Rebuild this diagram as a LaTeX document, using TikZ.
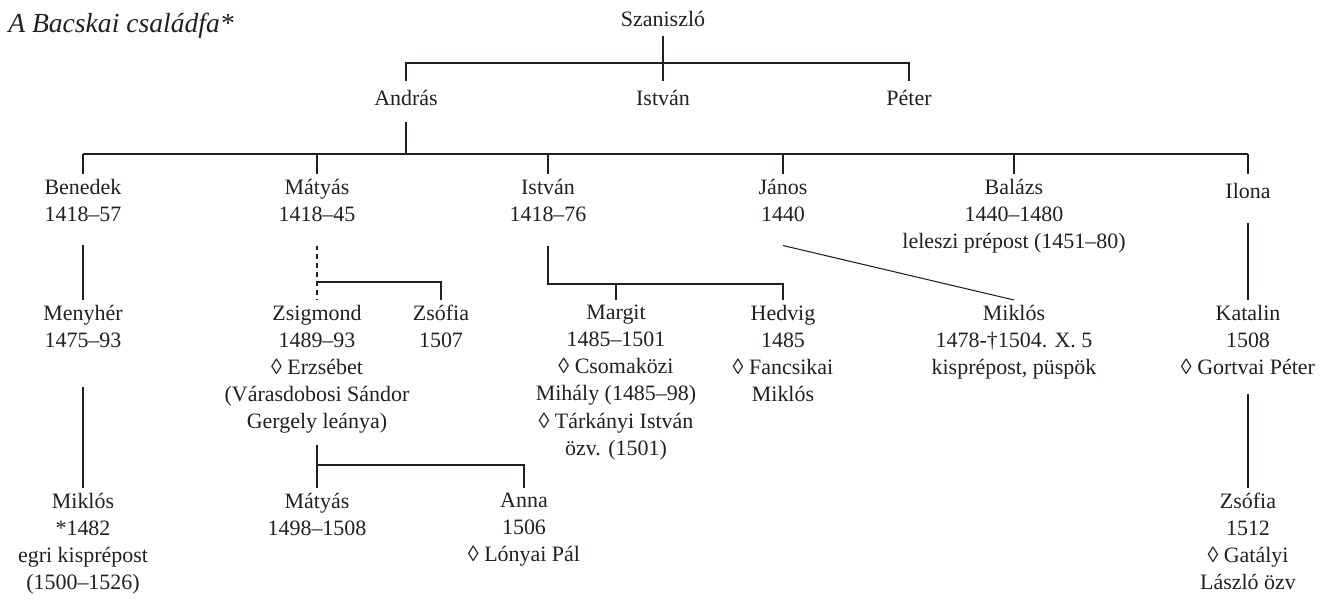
\documentclass[tikz,border=0pt]{standalone}
\usepackage{fontspec}
\setmainfont{Liberation Serif}
\usepackage{tikz}
\usetikzlibrary{calc}
\definecolor{ink}{HTML}{231F20}
\tikzstyle{pers} = [anchor=north, align=center, inner sep=0pt, outer sep=3pt, text=ink, font=\fontsize{12.5}{15.4}\selectfont, execute at begin node=\strut, execute at end node=\strut]
\tikzstyle{kin} = [-, draw=ink, line width=0.6pt]

\begin{document}
\begin{tikzpicture}[x=0.02cm, y=-0.02cm]
\useasboundingbox (0,0) rectangle (1330,601);
\node [anchor=base west, inner sep=0pt, text=ink, font=\fontsize{15.7}{18}\selectfont\itshape] (title) at (8, 33) {A Bacskai családfa*};

% first two generations
\node [pers] (szaniszlo) at (663, 2) {Szaniszló};
\node [pers] (andras) at (406, 81) {András};
\node [pers] (istvan1) at (663, 81) {István};
\node [pers] (peter) at (909, 81) {Péter};

% children of Andras
\node [pers] (benedek) at (83, 174) {Benedek\\1418--57};
\node [pers] (matyas1) at (317, 174) {Mátyás\\1418--45};
\node [pers] (istvan2) at (548, 174) {István\\1418--76};
\node [pers] (janos) at (783, 174) {János\\1440};
\node [pers] (balazs) at (1014, 174) {Balázs\\1440--1480\\leleszi prépost (1451--80)};
\node [pers] (ilona) at (1248, 174) {Ilona};

% grandchildren
\node [pers] (menyher) at (83, 300) {Menyhér\\1475--93};
\node [pers] (zsigmond) at (317, 300) {Zsigmond\\1489--93\\◊ Erzsébet\\(Várasdobosi Sándor\\Gergely leánya)};
\node [pers] (zsofia1) at (441, 300) {Zsófia\\1507};
\node [pers] (margit) at (616, 300) {Margit\\1485--1501\\◊ Csomaközi\\Mihály (1485--98)\\◊ Tárkányi István\\özv. (1501)};
\node [pers] (hedvig) at (783, 300) {Hedvig\\1485\\◊ Fancsikai\\Miklós};
\node [pers] (miklos2) at (1014, 300) {Miklós\\1478-†1504. X. 5\\kisprépost, püspök};
\node [pers] (katalin) at (1248, 300) {Katalin\\1508\\◊ Gortvai Péter};

% last row
\node [pers] (miklos1) at (83, 488) {Miklós\\*1482\\egri kisprépost\\(1500--1526)};
\node [pers] (matyas2) at (317, 488) {Mátyás\\1498--1508};
\node [pers] (anna) at (524, 488) {Anna\\1506\\◊ Lónyai Pál};
\node [pers] (zsofia2) at (1248, 488) {Zsófia\\1512\\◊ Gatályi\\László özv};

% bus lines
\coordinate (bus1) at (0, 63);
\coordinate (bus2) at (0, 154);
\coordinate (brm) at (0, 282);
\coordinate (bri) at (0, 284);
\coordinate (brz) at (0, 465);

\draw [kin, shorten <=-2pt] (szaniszlo) -- (istvan1);
\draw [kin] (andras) -- (andras |- bus1) -- (peter |- bus1) -- (peter);
\draw [kin, shorten <=2pt] (andras) -- (andras |- bus2);
\draw [kin] (benedek |- bus2) -- (ilona |- bus2);
\foreach \n in {benedek, matyas1, istvan2, janos, balazs, ilona}
  \draw [kin] (\n |- bus2) -- (\n);

\draw [kin, shorten <=6pt] (benedek) -- (menyher);
\draw [kin, dash pattern=on 2.7pt off 2.4pt, shorten <=6pt] (matyas1) -- (zsigmond);
\draw [kin] (matyas1 |- brm) -- (zsofia1 |- brm) -- (zsofia1);
\draw [kin, shorten <=6pt] (istvan2) -- (istvan2 |- bri) -- (hedvig |- bri) -- (hedvig);
\draw [kin] (margit |- bri) -- (margit);
\draw [kin] ([yshift=-6pt]janos.south) -- (miklos2.north);
\draw [kin, shorten <=6.6pt] (ilona) -- (katalin);

\draw [kin, shorten <=14.6pt] (menyher) -- (miklos1);
\draw [kin, shorten <=1.5pt] (zsigmond) -- (matyas2);
\draw [kin] (zsigmond |- brz) -- (anna |- brz) -- (anna);
\draw [kin, shorten <=3.2pt] (katalin) -- (zsofia2);
\end{tikzpicture}
\end{document}
